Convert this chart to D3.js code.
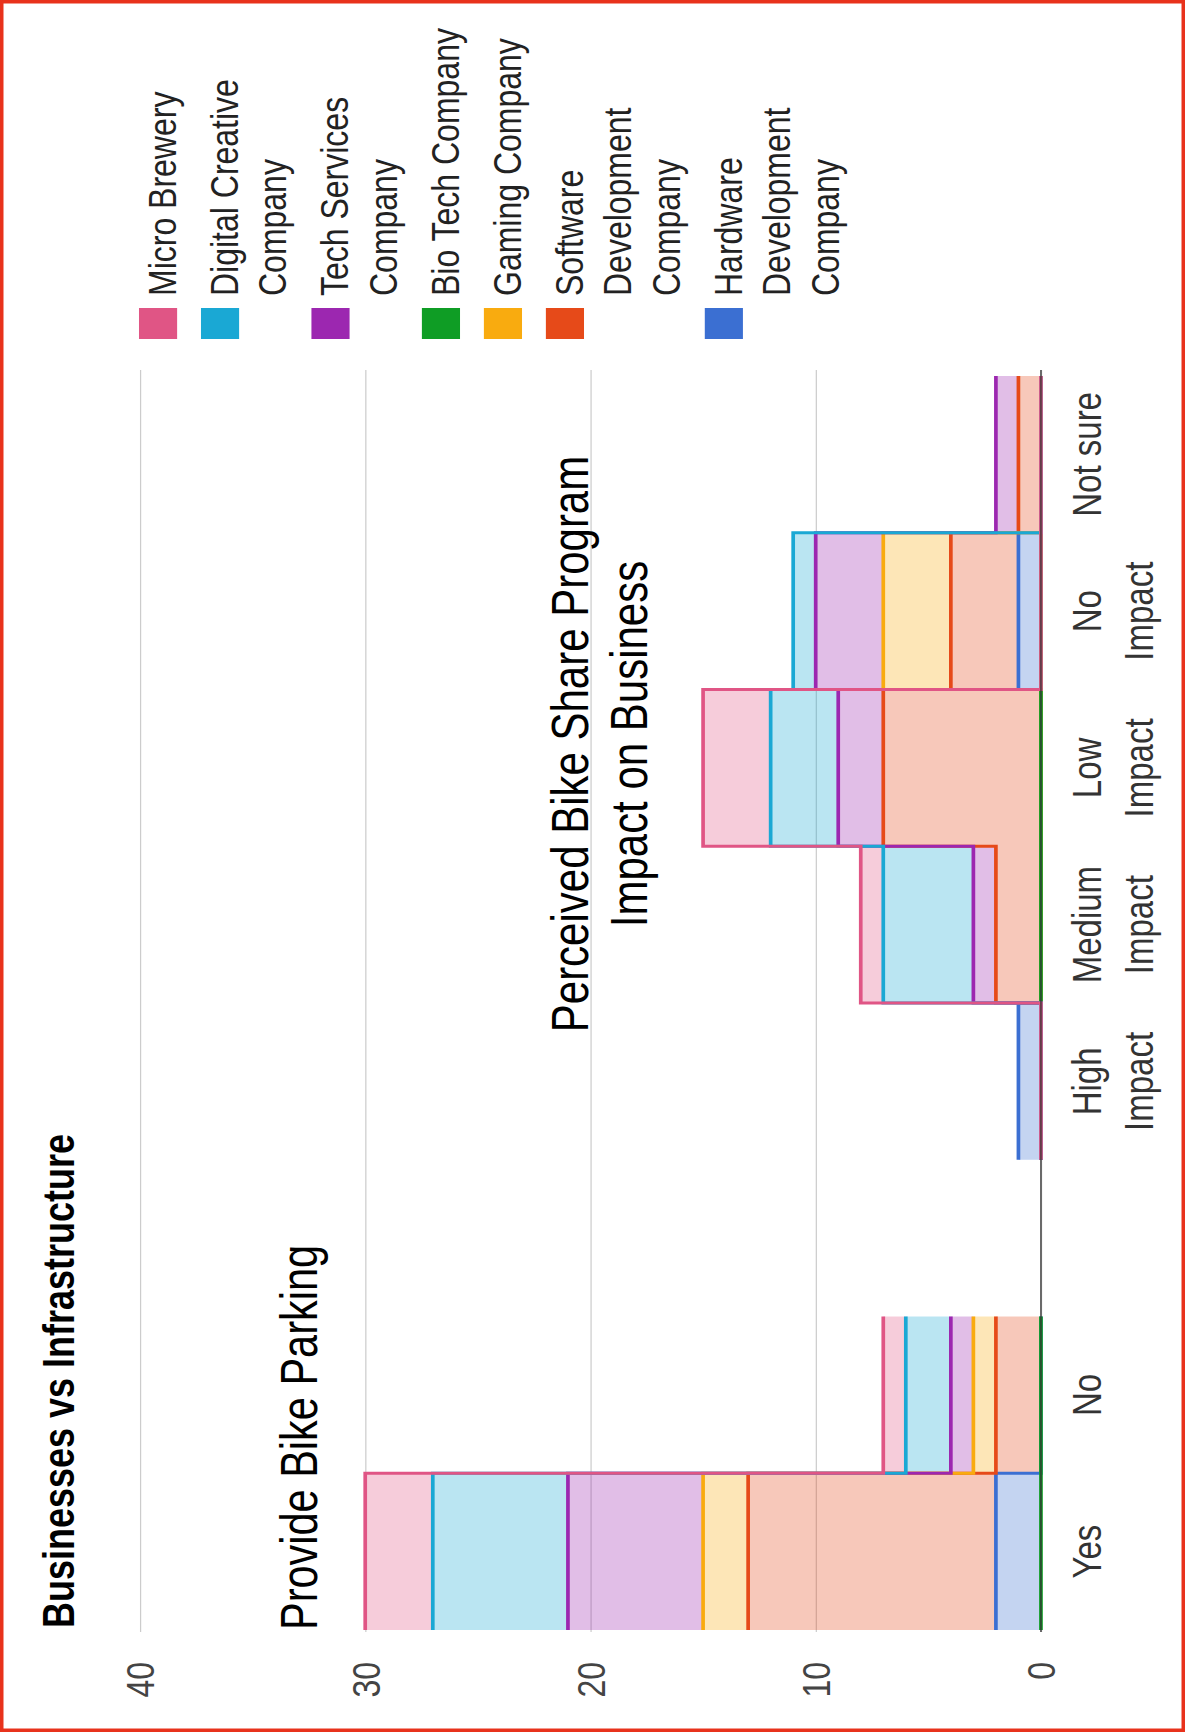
<!DOCTYPE html>
<html>
<head>
<meta charset="utf-8">
<script src="https://cdn.jsdelivr.net/npm/d3@7"></script>
<style>
  html, body { margin: 0; padding: 0; background: #fff; }
  svg { display: block; font-family: "Liberation Sans", Arial, sans-serif; }
</style>
</head>
<body>
<svg id="chart" width="1185" height="1733"></svg>
<script>
// ---- data ----
const categories = ["Yes", "No", "", "High Impact", "Medium Impact", "Low Impact", "No Impact", "Not sure"];
const categoryLines = [["Yes"], ["No"], [], ["High", "Impact"], ["Medium", "Impact"], ["Low", "Impact"], ["No", "Impact"], ["Not sure"]];

// stacked from the baseline upwards (null = no data in that column)
const seriesNames = ["Hardware Development Company", "Software Development Company", "Gaming Company",
                     "Bio Tech Company", "Tech Services Company", "Digital Creative Company", "Micro Brewery"];
const hardware = [2, 0, null, 1, 0, 0, 1, 0];
const software = [11, 2, null, 0, 2, 7, 3, 1];
const gaming   = [2, 1, null, 0, 0, 0, 3, 0];
const biotech  = [0, 0, null, 0, 0, 0, 0, 0];
const techServ = [6, 1, null, 0, 1, 2, 3, 1];
const digital  = [6, 2, null, 0, 4, 3, 1, 0];
const micro    = [3, 1, null, 0, 1, 3, 0, 0];
const seriesValues = [hardware, software, gaming, biotech, techServ, digital, micro];
const seriesColors = ["#3b6fd2", "#e64a19", "#f9ab0f", "#0f9d25", "#9c27b0", "#1aa8d4", "#e05585"];

// legend (top to bottom) with wrapped lines
const legendOrder = [6, 5, 4, 3, 2, 1, 0];
const legendLines = [
  ["Micro Brewery"],
  ["Digital Creative", "Company"],
  ["Tech Services", "Company"],
  ["Bio Tech Company"],
  ["Gaming Company"],
  ["Software", "Development", "Company"],
  ["Hardware", "Development", "Company"]
];

const tickValues = [0, 10, 20, 30, 40];
const chartTitle = "Businesses vs Infrastructure";
const noteParking = "Provide Bike Parking";
const noteImpact = ["Perceived Bike Share Program", "Impact on Business"];

// ---- layout ----
const W = 1185, H = 1733;
const K = 1.23;              // vertical stretch of the chart frame
const svg = d3.select("#chart");
svg.append("rect").attr("width", W).attr("height", H).attr("fill", "#fff");

// the chart is laid out in its own frame and turned a quarter turn
const root = svg.append("g")
  .attr("transform", `translate(0,${H}) rotate(-90) scale(1,${K})`);

const plotL = 103, plotR = 1357;
const x = d3.scaleBand().domain(categories).range([plotL, plotR]).padding(0);
const y = d3.scaleLinear().domain([0, 40]).range([846.3, 113.8]);

// gridlines + value labels
const yAxis = root.append("g")
  .attr("transform", `translate(${plotL - 2},0)`)
  .call(d3.axisLeft(y).tickValues(tickValues).tickSizeInner(-(plotR - plotL + 8)).tickSizeOuter(0).tickPadding(30));
yAxis.select(".domain").remove();
yAxis.selectAll("line").attr("stroke", "#cccccc").attr("stroke-width", 1);
yAxis.selectAll("text")
  .attr("font-family", "'Liberation Sans', Arial, sans-serif")
  .attr("font-size", 32).attr("fill", "#444").attr("dy", "0.35em");

// stacked values
const rows = categories.map((c, i) => {
  const r = { cat: c, idx: i };
  seriesValues.forEach((vals, s) => { r["s" + s] = vals[i]; });
  return r;
});
const keys = seriesValues.map((_, s) => "s" + s);
const stacked = d3.stack().keys(keys).value((d, k) => d[k] == null ? 0 : d[k])(rows);

// two points per category so each value forms a flat step;
// a zero entry puts that series' outline back on the baseline
function stepPoints(layer) {
  const vals = seriesValues[layer.index];
  const pts = [];
  layer.forEach((d, i) => {
    const ok = vals[i] !== null;
    const u0 = x(categories[i]), u1 = u0 + x.bandwidth();
    const edge = vals[i] === 0 ? 0 : d[1];
    pts.push({ u: u0, lo: d[0], hi: d[1], edge, ok });
    pts.push({ u: u1, lo: d[0], hi: d[1], edge, ok });
  });
  return pts;
}

const area = d3.area().x(p => p.u).y0(p => y(p.lo)).y1(p => y(p.hi)).defined(p => p.ok);
const line = d3.line().x(p => p.u).y(p => y(p.edge)).defined(p => p.ok);

const areas = root.append("g");
stacked.forEach((layer, s) => {
  areas.append("path")
    .attr("d", area(stepPoints(layer)))
    .attr("fill", seriesColors[s]).attr("fill-opacity", 0.3).attr("stroke", "none");
});

// outlines, in series order
const lines = root.append("g");
stacked.forEach((layer, s) => {
  lines.append("path")
    .attr("d", line(stepPoints(layer)))
    .attr("fill", "none").attr("stroke", seriesColors[s]).attr("stroke-width", 3);
});

// baseline
root.append("line")
  .attr("x1", plotL - 2).attr("x2", plotR + 6)
  .attr("y1", y(0)).attr("y2", y(0))
  .attr("stroke", "#333").attr("stroke-opacity", 0.8).attr("stroke-width", 1.4);

// category labels
const xAxis = root.append("g")
  .attr("transform", `translate(0,${y(0)})`)
  .call(d3.axisBottom(x).tickSize(0).tickPadding(0));
xAxis.select(".domain").remove();
xAxis.selectAll("text").each(function (d) {
  const t = d3.select(this).text(null).attr("y", null).attr("dy", null)
    .attr("font-family", "'Liberation Sans', Arial, sans-serif")
    .attr("font-size", 33).attr("fill", "#333");
  categoryLines[categories.indexOf(d)].forEach((ln, j) => {
    t.append("tspan").attr("x", 0).attr("y", 49 + j * 42).text(ln);
  });
});

// title and notes
root.append("text")
  .attr("x", 105).attr("y", 60)
  .attr("font-size", 36).attr("font-weight", "bold").attr("fill", "#000")
  .text(chartTitle);

root.append("text")
  .attr("x", 103).attr("y", 258)
  .attr("font-size", 41.5).attr("fill", "#000")
  .text(noteParking);

const impactNote = root.append("text")
  .attr("text-anchor", "middle").attr("font-size", 42).attr("fill", "#000");
noteImpact.forEach((ln, j) => {
  impactNote.append("tspan").attr("x", 989).attr("y", 478 + j * 48).text(ln);
});

// legend
const legend = root.append("g");
let legendTop = 113;
legendOrder.forEach((s, i) => {
  const g = legend.append("g");
  g.append("rect")
    .attr("x", 1394).attr("y", legendTop).attr("width", 31).attr("height", 31)
    .attr("fill", seriesColors[s]);
  const t = g.append("text").attr("font-size", 32).attr("fill", "#222");
  legendLines[i].forEach((ln, j) => {
    t.append("tspan").attr("x", 1437).attr("y", legendTop + 30 + j * 39.4).text(ln);
  });
  legendTop += 50.4 + 39.4 * (legendLines[i].length - 1);
});

// outer frame
svg.append("rect")
  .attr("x", 1.75).attr("y", 1.75).attr("width", W - 3.5).attr("height", H - 4.5)
  .attr("fill", "none").attr("stroke", "#e8321c").attr("stroke-width", 3.5);
</script>
</body>
</html>
